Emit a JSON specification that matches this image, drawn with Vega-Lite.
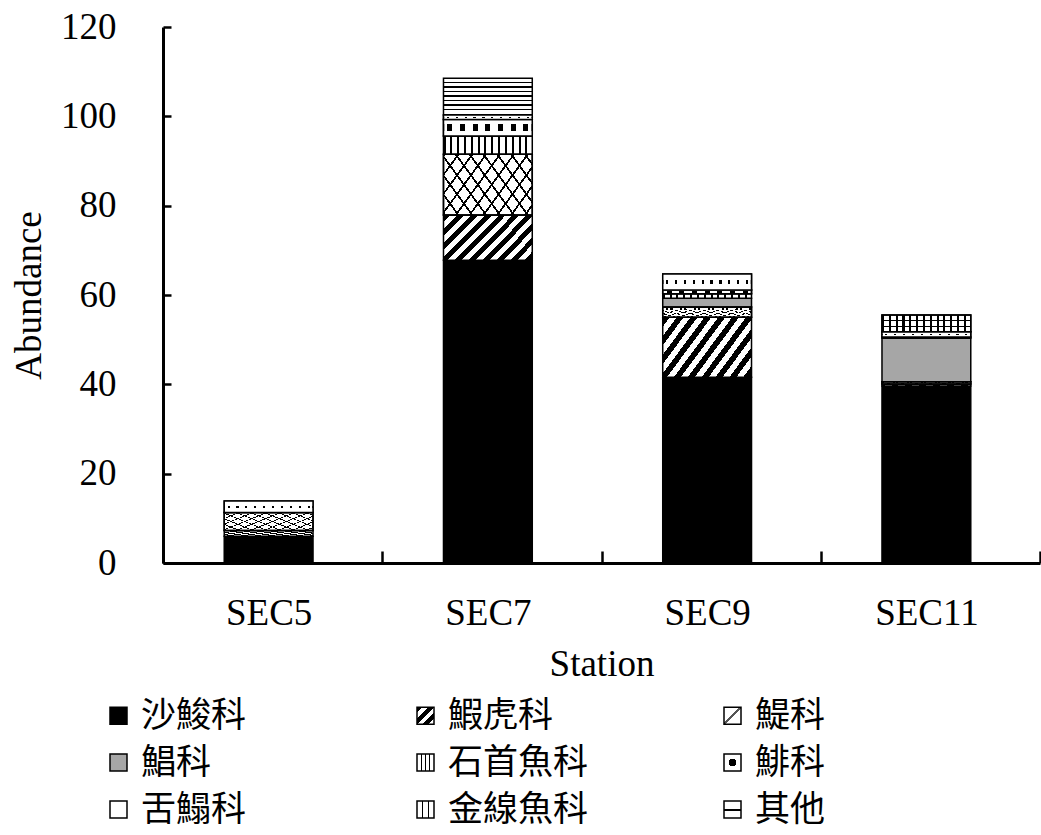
{
  "$schema": "https://vega.github.io/schema/vega-lite/v6.json",
  "width": 877,
  "height": 536,
  "autosize": {"type": "none"},
  "padding": {"left": 163, "top": 27, "right": 1, "bottom": 272},
  "background": "white",
  "config": {
    "view": {"stroke": null},
    "axis": {"grid": false, "domainColor": "black", "domainWidth": 3, "tickColor": "black", "tickWidth": 2.5, "labelFont": "Liberation Serif", "labelFontSize": 37, "labelColor": "black", "titleFont": "Liberation Serif", "titleFontSize": 37, "titleFontWeight": "normal", "titleColor": "black"}
  },
  "data": {"values": [
    {"station": "SEC5", "family": "沙鮻科", "value": 6.0},
    {"station": "SEC5", "family": "鰕虎科", "value": 1.3},
    {"station": "SEC5", "family": "鯷科", "value": 4.0},
    {"station": "SEC5", "family": "舌鰨科", "value": 2.6},
    {"station": "SEC7", "family": "沙鮻科", "value": 67.8},
    {"station": "SEC7", "family": "鰕虎科", "value": 10.1},
    {"station": "SEC7", "family": "鯷科", "value": 13.6},
    {"station": "SEC7", "family": "石首魚科", "value": 4.1},
    {"station": "SEC7", "family": "鯡科", "value": 3.7},
    {"station": "SEC7", "family": "舌鰨科", "value": 1.0},
    {"station": "SEC7", "family": "其他", "value": 8.2},
    {"station": "SEC9", "family": "沙鮻科", "value": 41.6},
    {"station": "SEC9", "family": "鰕虎科", "value": 13.4},
    {"station": "SEC9", "family": "鯷科", "value": 2.3},
    {"station": "SEC9", "family": "鯧科", "value": 2.0},
    {"station": "SEC9", "family": "石首魚科", "value": 1.0},
    {"station": "SEC9", "family": "鯡科", "value": 0.8},
    {"station": "SEC9", "family": "舌鰨科", "value": 3.6},
    {"station": "SEC11", "family": "沙鮻科", "value": 39.6},
    {"station": "SEC11", "family": "鰕虎科", "value": 0.5},
    {"station": "SEC11", "family": "鯷科", "value": 0.5},
    {"station": "SEC11", "family": "鯧科", "value": 9.7},
    {"station": "SEC11", "family": "石首魚科", "value": 0.3},
    {"station": "SEC11", "family": "舌鰨科", "value": 1.2},
    {"station": "SEC11", "family": "金線魚科", "value": 3.7}
  ]},
  "transform": [
    {"calculate": "indexof(['沙鮻科','鰕虎科','鯷科','鯧科','石首魚科','鯡科','舌鰨科','金線魚科','其他'], datum.family)", "as": "k"},
    {"stack": "value", "groupby": ["station"], "sort": [{"field": "k", "order": "ascending"}], "as": ["y0", "y1"]}
  ],
  "encoding": {
    "x": {"field": "station", "type": "nominal", "sort": ["SEC5", "SEC7", "SEC9", "SEC11"],
      "scale": {"type": "band", "paddingInner": 0, "paddingOuter": 0},
      "axis": {"title": "Station", "labelAngle": 0, "labelOffset": -4, "tickBand": "extent", "tickSize": -12, "labelPadding": 44, "titlePadding": 15}},
    "y": {"field": "y0", "type": "quantitative", "scale": {"domain": [0, 120]},
      "axis": {"title": "Abundance", "values": [0, 20, 40, 60, 80, 100, 120], "tickSize": -8, "labelPadding": 55, "titlePadding": 12}},
    "y2": {"field": "y1"}
  },
  "layer": [
    {
      "mark": {"type": "bar", "stroke": "black", "strokeWidth": 1.5, "width": {"band": 0.405}, "xOffset": -4},
      "encoding": {
        "fill": {
          "field": "family", "type": "nominal",
          "scale": {
            "domain": ["沙鮻科", "鰕虎科", "鯷科", "鯧科", "石首魚科", "鯡科", "舌鰨科", "金線魚科", "其他"],
            "range": [
              "black",
              {"expr": "{gradient: 'linear', x1: 0, y1: 0, x2: 1, y2: 1, stops: [{offset: 0, color: 'black'}, {offset: 0.167, color: 'black'}, {offset: 0.167, color: 'white'}, {offset: 0.333, color: 'white'}, {offset: 0.333, color: 'black'}, {offset: 0.5, color: 'black'}, {offset: 0.5, color: 'white'}, {offset: 0.667, color: 'white'}, {offset: 0.667, color: 'black'}, {offset: 0.833, color: 'black'}, {offset: 0.833, color: 'white'}, {offset: 1, color: 'white'}]}"},
              {"expr": "{gradient: 'linear', x1: 0, y1: 0, x2: 1, y2: 1, stops: [{offset: 0, color: 'white'}, {offset: 0.45, color: 'white'}, {offset: 0.45, color: '#555555'}, {offset: 0.55, color: '#555555'}, {offset: 0.55, color: 'white'}, {offset: 1, color: 'white'}]}"},
              "#a6a6a6",
              {"expr": "{gradient: 'linear', x1: 0, y1: 0, x2: 1, y2: 0, stops: [{offset: 0, color: 'white'}, {offset: 0.22, color: 'white'}, {offset: 0.22, color: 'black'}, {offset: 0.3, color: 'black'}, {offset: 0.3, color: 'white'}, {offset: 0.46, color: 'white'}, {offset: 0.46, color: 'black'}, {offset: 0.54, color: 'black'}, {offset: 0.54, color: 'white'}, {offset: 0.7, color: 'white'}, {offset: 0.7, color: 'black'}, {offset: 0.78, color: 'black'}, {offset: 0.78, color: 'white'}, {offset: 1, color: 'white'}]}"},
              {"expr": "{gradient: 'radial', x1: 0.5, y1: 0.5, r1: 0, x2: 0.5, y2: 0.5, r2: 0.5, stops: [{offset: 0, color: 'black'}, {offset: 0.45, color: 'black'}, {offset: 0.45, color: 'white'}, {offset: 1, color: 'white'}]}"},
              "white",
              {"expr": "{gradient: 'linear', x1: 0, y1: 0, x2: 1, y2: 0, stops: [{offset: 0, color: 'white'}, {offset: 0.3, color: 'white'}, {offset: 0.3, color: 'black'}, {offset: 0.38, color: 'black'}, {offset: 0.38, color: 'white'}, {offset: 0.62, color: 'white'}, {offset: 0.62, color: 'black'}, {offset: 0.7, color: 'black'}, {offset: 0.7, color: 'white'}, {offset: 1, color: 'white'}]}"},
              {"expr": "{gradient: 'linear', x1: 0, y1: 0, x2: 0, y2: 1, stops: [{offset: 0, color: 'white'}, {offset: 0.45, color: 'white'}, {offset: 0.45, color: 'black'}, {offset: 0.58, color: 'black'}, {offset: 0.58, color: 'white'}, {offset: 1, color: 'white'}]}"}
            ]
          },
          "legend": {
            "orient": "none", "legendX": -62, "legendY": 671, "title": null,
            "columns": 3, "direction": "horizontal", "gridAlign": "all",
            "columnPadding": 126, "rowPadding": 11, "padding": 0,
            "symbolType": "square", "symbolSize": 289, "symbolStrokeColor": "black", "symbolStrokeWidth": 1.5, "symbolOpacity": 1,
            "labelFont": "Noto Sans CJK TC", "labelFontSize": 35, "labelColor": "black", "labelOffset": 5, "labelLimit": 0,
            "encode": {"symbols": {"update": {"stroke": {"value": "black"}, "strokeWidth": {"value": 1.5}}}}
          },
          "condition": [
            {"test": "datum.family === '沙鮻科'", "value": "black"},
            {"test": "datum.family === '鰕虎科'", "value": {"gradient": "linear", "x1": 0, "y1": 0, "x2": 1.5, "y2": 0.75, "stops": [
              {"offset": 0, "color": "black"}, {"offset": 0.0417, "color": "black"}, {"offset": 0.0417, "color": "white"}, {"offset": 0.0833, "color": "white"},
              {"offset": 0.0833, "color": "black"}, {"offset": 0.125, "color": "black"}, {"offset": 0.125, "color": "white"}, {"offset": 0.1667, "color": "white"},
              {"offset": 0.1667, "color": "black"}, {"offset": 0.2083, "color": "black"}, {"offset": 0.2083, "color": "white"}, {"offset": 0.25, "color": "white"},
              {"offset": 0.25, "color": "black"}, {"offset": 0.2917, "color": "black"}, {"offset": 0.2917, "color": "white"}, {"offset": 0.3333, "color": "white"},
              {"offset": 0.3333, "color": "black"}, {"offset": 0.375, "color": "black"}, {"offset": 0.375, "color": "white"}, {"offset": 0.4167, "color": "white"},
              {"offset": 0.4167, "color": "black"}, {"offset": 0.4583, "color": "black"}, {"offset": 0.4583, "color": "white"}, {"offset": 0.5, "color": "white"},
              {"offset": 0.5, "color": "black"}, {"offset": 0.5417, "color": "black"}, {"offset": 0.5417, "color": "white"}, {"offset": 0.5833, "color": "white"},
              {"offset": 0.5833, "color": "black"}, {"offset": 0.625, "color": "black"}, {"offset": 0.625, "color": "white"}, {"offset": 0.6667, "color": "white"},
              {"offset": 0.6667, "color": "black"}, {"offset": 0.7083, "color": "black"}, {"offset": 0.7083, "color": "white"}, {"offset": 0.75, "color": "white"},
              {"offset": 0.75, "color": "black"}, {"offset": 0.7917, "color": "black"}, {"offset": 0.7917, "color": "white"}, {"offset": 0.8333, "color": "white"},
              {"offset": 0.8333, "color": "black"}, {"offset": 1, "color": "black"}]}},
            {"test": "datum.family === '鯷科'", "value": {"gradient": "linear", "x1": 0, "y1": 0, "x2": 1.5, "y2": 0.75, "stops": [
              {"offset": 0, "color": "black"}, {"offset": 0.013, "color": "black"}, {"offset": 0.013, "color": "white"}, {"offset": 0.0833, "color": "white"},
              {"offset": 0.0833, "color": "black"}, {"offset": 0.0963, "color": "black"}, {"offset": 0.0963, "color": "white"}, {"offset": 0.1667, "color": "white"},
              {"offset": 0.1667, "color": "black"}, {"offset": 0.1797, "color": "black"}, {"offset": 0.1797, "color": "white"}, {"offset": 0.25, "color": "white"},
              {"offset": 0.25, "color": "black"}, {"offset": 0.263, "color": "black"}, {"offset": 0.263, "color": "white"}, {"offset": 0.3333, "color": "white"},
              {"offset": 0.3333, "color": "black"}, {"offset": 0.3463, "color": "black"}, {"offset": 0.3463, "color": "white"}, {"offset": 0.4167, "color": "white"},
              {"offset": 0.4167, "color": "black"}, {"offset": 0.4297, "color": "black"}, {"offset": 0.4297, "color": "white"}, {"offset": 0.5, "color": "white"},
              {"offset": 0.5, "color": "black"}, {"offset": 0.513, "color": "black"}, {"offset": 0.513, "color": "white"}, {"offset": 0.5833, "color": "white"},
              {"offset": 0.5833, "color": "black"}, {"offset": 0.5963, "color": "black"}, {"offset": 0.5963, "color": "white"}, {"offset": 0.6667, "color": "white"},
              {"offset": 0.6667, "color": "black"}, {"offset": 0.6797, "color": "black"}, {"offset": 0.6797, "color": "white"}, {"offset": 0.75, "color": "white"},
              {"offset": 0.75, "color": "black"}, {"offset": 0.763, "color": "black"}, {"offset": 0.763, "color": "white"}, {"offset": 1, "color": "white"}]}},
            {"test": "datum.family === '鯧科'", "value": "#a6a6a6"},
            {"test": "datum.family === '石首魚科'", "value": {"gradient": "linear", "x1": 0, "y1": 0, "x2": 1, "y2": 0, "stops": [
              {"offset": 0, "color": "black"}, {"offset": 0.023, "color": "black"}, {"offset": 0.023, "color": "white"}, {"offset": 0.0769, "color": "white"},
              {"offset": 0.0769, "color": "black"}, {"offset": 0.0999, "color": "black"}, {"offset": 0.0999, "color": "white"}, {"offset": 0.1538, "color": "white"},
              {"offset": 0.1538, "color": "black"}, {"offset": 0.1768, "color": "black"}, {"offset": 0.1768, "color": "white"}, {"offset": 0.2308, "color": "white"},
              {"offset": 0.2308, "color": "black"}, {"offset": 0.2538, "color": "black"}, {"offset": 0.2538, "color": "white"}, {"offset": 0.3077, "color": "white"},
              {"offset": 0.3077, "color": "black"}, {"offset": 0.3307, "color": "black"}, {"offset": 0.3307, "color": "white"}, {"offset": 0.3846, "color": "white"},
              {"offset": 0.3846, "color": "black"}, {"offset": 0.4076, "color": "black"}, {"offset": 0.4076, "color": "white"}, {"offset": 0.4615, "color": "white"},
              {"offset": 0.4615, "color": "black"}, {"offset": 0.4845, "color": "black"}, {"offset": 0.4845, "color": "white"}, {"offset": 0.5385, "color": "white"},
              {"offset": 0.5385, "color": "black"}, {"offset": 0.5615, "color": "black"}, {"offset": 0.5615, "color": "white"}, {"offset": 0.6154, "color": "white"},
              {"offset": 0.6154, "color": "black"}, {"offset": 0.6384, "color": "black"}, {"offset": 0.6384, "color": "white"}, {"offset": 0.6923, "color": "white"},
              {"offset": 0.6923, "color": "black"}, {"offset": 0.7153, "color": "black"}, {"offset": 0.7153, "color": "white"}, {"offset": 0.7692, "color": "white"},
              {"offset": 0.7692, "color": "black"}, {"offset": 0.7922, "color": "black"}, {"offset": 0.7922, "color": "white"}, {"offset": 0.8462, "color": "white"},
              {"offset": 0.8462, "color": "black"}, {"offset": 0.8692, "color": "black"}, {"offset": 0.8692, "color": "white"}, {"offset": 0.9231, "color": "white"},
              {"offset": 0.9231, "color": "black"}, {"offset": 0.9461, "color": "black"}, {"offset": 0.9461, "color": "white"}, {"offset": 1, "color": "white"}]}},
            {"test": "datum.family === '鯡科'", "value": {"gradient": "linear", "x1": 0, "y1": 0, "x2": 1, "y2": 0, "stops": [
              {"offset": 0, "color": "white"},
              {"offset": 0.043, "color": "white"}, {"offset": 0.043, "color": "black"}, {"offset": 0.1, "color": "black"}, {"offset": 0.1, "color": "white"},
              {"offset": 0.1859, "color": "white"}, {"offset": 0.1859, "color": "black"}, {"offset": 0.2429, "color": "black"}, {"offset": 0.2429, "color": "white"},
              {"offset": 0.3287, "color": "white"}, {"offset": 0.3287, "color": "black"}, {"offset": 0.3857, "color": "black"}, {"offset": 0.3857, "color": "white"},
              {"offset": 0.4716, "color": "white"}, {"offset": 0.4716, "color": "black"}, {"offset": 0.5286, "color": "black"}, {"offset": 0.5286, "color": "white"},
              {"offset": 0.6144, "color": "white"}, {"offset": 0.6144, "color": "black"}, {"offset": 0.6714, "color": "black"}, {"offset": 0.6714, "color": "white"},
              {"offset": 0.7573, "color": "white"}, {"offset": 0.7573, "color": "black"}, {"offset": 0.8143, "color": "black"}, {"offset": 0.8143, "color": "white"},
              {"offset": 0.9001, "color": "white"}, {"offset": 0.9001, "color": "black"}, {"offset": 0.9571, "color": "black"}, {"offset": 0.9571, "color": "white"},
              {"offset": 1, "color": "white"}]}},
            {"test": "datum.family === '舌鰨科'", "value": {"gradient": "linear", "x1": 0, "y1": 0, "x2": 1, "y2": 0, "stops": [
              {"offset": 0, "color": "white"},
              {"offset": 0.038, "color": "white"}, {"offset": 0.038, "color": "black"}, {"offset": 0.062, "color": "black"}, {"offset": 0.062, "color": "white"},
              {"offset": 0.138, "color": "white"}, {"offset": 0.138, "color": "black"}, {"offset": 0.162, "color": "black"}, {"offset": 0.162, "color": "white"},
              {"offset": 0.238, "color": "white"}, {"offset": 0.238, "color": "black"}, {"offset": 0.262, "color": "black"}, {"offset": 0.262, "color": "white"},
              {"offset": 0.338, "color": "white"}, {"offset": 0.338, "color": "black"}, {"offset": 0.362, "color": "black"}, {"offset": 0.362, "color": "white"},
              {"offset": 0.438, "color": "white"}, {"offset": 0.438, "color": "black"}, {"offset": 0.462, "color": "black"}, {"offset": 0.462, "color": "white"},
              {"offset": 0.538, "color": "white"}, {"offset": 0.538, "color": "black"}, {"offset": 0.562, "color": "black"}, {"offset": 0.562, "color": "white"},
              {"offset": 0.638, "color": "white"}, {"offset": 0.638, "color": "black"}, {"offset": 0.662, "color": "black"}, {"offset": 0.662, "color": "white"},
              {"offset": 0.738, "color": "white"}, {"offset": 0.738, "color": "black"}, {"offset": 0.762, "color": "black"}, {"offset": 0.762, "color": "white"},
              {"offset": 0.838, "color": "white"}, {"offset": 0.838, "color": "black"}, {"offset": 0.862, "color": "black"}, {"offset": 0.862, "color": "white"},
              {"offset": 0.938, "color": "white"}, {"offset": 0.938, "color": "black"}, {"offset": 0.962, "color": "black"}, {"offset": 0.962, "color": "white"},
              {"offset": 1, "color": "white"}]}},
            {"test": "datum.family === '金線魚科'", "value": {"gradient": "linear", "x1": 0, "y1": 0, "x2": 1, "y2": 0, "stops": [
              {"offset": 0, "color": "black"}, {"offset": 0.023, "color": "black"}, {"offset": 0.023, "color": "white"}, {"offset": 0.0769, "color": "white"},
              {"offset": 0.0769, "color": "black"}, {"offset": 0.0999, "color": "black"}, {"offset": 0.0999, "color": "white"}, {"offset": 0.1538, "color": "white"},
              {"offset": 0.1538, "color": "black"}, {"offset": 0.1768, "color": "black"}, {"offset": 0.1768, "color": "white"}, {"offset": 0.2308, "color": "white"},
              {"offset": 0.2308, "color": "black"}, {"offset": 0.2538, "color": "black"}, {"offset": 0.2538, "color": "white"}, {"offset": 0.3077, "color": "white"},
              {"offset": 0.3077, "color": "black"}, {"offset": 0.3307, "color": "black"}, {"offset": 0.3307, "color": "white"}, {"offset": 0.3846, "color": "white"},
              {"offset": 0.3846, "color": "black"}, {"offset": 0.4076, "color": "black"}, {"offset": 0.4076, "color": "white"}, {"offset": 0.4615, "color": "white"},
              {"offset": 0.4615, "color": "black"}, {"offset": 0.4845, "color": "black"}, {"offset": 0.4845, "color": "white"}, {"offset": 0.5385, "color": "white"},
              {"offset": 0.5385, "color": "black"}, {"offset": 0.5615, "color": "black"}, {"offset": 0.5615, "color": "white"}, {"offset": 0.6154, "color": "white"},
              {"offset": 0.6154, "color": "black"}, {"offset": 0.6384, "color": "black"}, {"offset": 0.6384, "color": "white"}, {"offset": 0.6923, "color": "white"},
              {"offset": 0.6923, "color": "black"}, {"offset": 0.7153, "color": "black"}, {"offset": 0.7153, "color": "white"}, {"offset": 0.7692, "color": "white"},
              {"offset": 0.7692, "color": "black"}, {"offset": 0.7922, "color": "black"}, {"offset": 0.7922, "color": "white"}, {"offset": 0.8462, "color": "white"},
              {"offset": 0.8462, "color": "black"}, {"offset": 0.8692, "color": "black"}, {"offset": 0.8692, "color": "white"}, {"offset": 0.9231, "color": "white"},
              {"offset": 0.9231, "color": "black"}, {"offset": 0.9461, "color": "black"}, {"offset": 0.9461, "color": "white"}, {"offset": 1, "color": "white"}]}},
            {"test": "datum.family === '其他'", "value": {"gradient": "linear", "x1": 0, "y1": 0, "x2": 0, "y2": 1, "stops": [
              {"offset": 0, "color": "white"}, {"offset": 0.0875, "color": "white"}, {"offset": 0.0875, "color": "black"}, {"offset": 0.125, "color": "black"},
              {"offset": 0.125, "color": "white"}, {"offset": 0.2125, "color": "white"}, {"offset": 0.2125, "color": "black"}, {"offset": 0.25, "color": "black"},
              {"offset": 0.25, "color": "white"}, {"offset": 0.3375, "color": "white"}, {"offset": 0.3375, "color": "black"}, {"offset": 0.375, "color": "black"},
              {"offset": 0.375, "color": "white"}, {"offset": 0.4625, "color": "white"}, {"offset": 0.4625, "color": "black"}, {"offset": 0.5, "color": "black"},
              {"offset": 0.5, "color": "white"}, {"offset": 0.5875, "color": "white"}, {"offset": 0.5875, "color": "black"}, {"offset": 0.625, "color": "black"},
              {"offset": 0.625, "color": "white"}, {"offset": 0.7125, "color": "white"}, {"offset": 0.7125, "color": "black"}, {"offset": 0.75, "color": "black"},
              {"offset": 0.75, "color": "white"}, {"offset": 0.8375, "color": "white"}, {"offset": 0.8375, "color": "black"}, {"offset": 0.875, "color": "black"},
              {"offset": 0.875, "color": "white"}, {"offset": 0.9625, "color": "white"}, {"offset": 0.9625, "color": "black"}, {"offset": 1, "color": "black"}]}}
          ]
        }
      }
    },
    {
      "transform": [{"filter": "datum.family === '鯷科'"}],
      "mark": {"type": "bar", "stroke": "black", "strokeWidth": 1.5, "width": {"band": 0.405}, "xOffset": -4, "fill": {"gradient": "linear", "x1": 0, "y1": 1, "x2": 1.5, "y2": 0.25, "stops": [
        {"offset": 0, "color": "black"}, {"offset": 0.013, "color": "black"}, {"offset": 0.013, "color": "rgba(0,0,0,0)"}, {"offset": 0.0833, "color": "rgba(0,0,0,0)"},
        {"offset": 0.0833, "color": "black"}, {"offset": 0.0963, "color": "black"}, {"offset": 0.0963, "color": "rgba(0,0,0,0)"}, {"offset": 0.1667, "color": "rgba(0,0,0,0)"},
        {"offset": 0.1667, "color": "black"}, {"offset": 0.1797, "color": "black"}, {"offset": 0.1797, "color": "rgba(0,0,0,0)"}, {"offset": 0.25, "color": "rgba(0,0,0,0)"},
        {"offset": 0.25, "color": "black"}, {"offset": 0.263, "color": "black"}, {"offset": 0.263, "color": "rgba(0,0,0,0)"}, {"offset": 0.3333, "color": "rgba(0,0,0,0)"},
        {"offset": 0.3333, "color": "black"}, {"offset": 0.3463, "color": "black"}, {"offset": 0.3463, "color": "rgba(0,0,0,0)"}, {"offset": 0.4167, "color": "rgba(0,0,0,0)"},
        {"offset": 0.4167, "color": "black"}, {"offset": 0.4297, "color": "black"}, {"offset": 0.4297, "color": "rgba(0,0,0,0)"}, {"offset": 0.5, "color": "rgba(0,0,0,0)"},
        {"offset": 0.5, "color": "black"}, {"offset": 0.513, "color": "black"}, {"offset": 0.513, "color": "rgba(0,0,0,0)"}, {"offset": 0.5833, "color": "rgba(0,0,0,0)"},
        {"offset": 0.5833, "color": "black"}, {"offset": 0.5963, "color": "black"}, {"offset": 0.5963, "color": "rgba(0,0,0,0)"}, {"offset": 0.6667, "color": "rgba(0,0,0,0)"},
        {"offset": 0.6667, "color": "black"}, {"offset": 0.6797, "color": "black"}, {"offset": 0.6797, "color": "rgba(0,0,0,0)"}, {"offset": 0.75, "color": "rgba(0,0,0,0)"},
        {"offset": 0.75, "color": "black"}, {"offset": 0.763, "color": "black"}, {"offset": 0.763, "color": "rgba(0,0,0,0)"}, {"offset": 1, "color": "rgba(0,0,0,0)"}]}}
    },
    {
      "transform": [{"filter": "datum.family === '鯡科'"}],
      "mark": {"type": "bar", "stroke": "black", "strokeWidth": 1.5, "width": {"band": 0.405}, "xOffset": -4, "fill": {"gradient": "linear", "x1": 0, "y1": 0, "x2": 0, "y2": 1, "stops": [
        {"offset": 0, "color": "white"}, {"offset": 0.3, "color": "white"}, {"offset": 0.3, "color": "rgba(255,255,255,0)"}, {"offset": 0.7, "color": "rgba(255,255,255,0)"}, {"offset": 0.7, "color": "white"}, {"offset": 1, "color": "white"}]}}
    },
    {
      "transform": [{"filter": "datum.family === '舌鰨科'"}],
      "mark": {"type": "bar", "stroke": "black", "strokeWidth": 1.5, "width": {"band": 0.405}, "xOffset": -4, "fill": {"gradient": "linear", "x1": 0, "y1": 0, "x2": 0, "y2": 1, "stops": [
        {"offset": 0, "color": "white"}, {"offset": 0.4, "color": "white"}, {"offset": 0.4, "color": "rgba(255,255,255,0)"}, {"offset": 0.6, "color": "rgba(255,255,255,0)"}, {"offset": 0.6, "color": "white"}, {"offset": 1, "color": "white"}]}}
    },
    {
      "transform": [{"filter": "datum.family === '金線魚科'"}],
      "mark": {"type": "bar", "stroke": "black", "strokeWidth": 1.5, "width": {"band": 0.405}, "xOffset": -4, "fill": {"gradient": "linear", "x1": 0, "y1": 0, "x2": 0, "y2": 1, "stops": [
        {"offset": 0, "color": "rgba(0,0,0,0)"}, {"offset": 0.3, "color": "rgba(0,0,0,0)"}, {"offset": 0.3, "color": "black"}, {"offset": 0.37, "color": "black"}, {"offset": 0.37, "color": "rgba(0,0,0,0)"},
        {"offset": 0.63, "color": "rgba(0,0,0,0)"}, {"offset": 0.63, "color": "black"}, {"offset": 0.7, "color": "black"}, {"offset": 0.7, "color": "rgba(0,0,0,0)"}, {"offset": 1, "color": "rgba(0,0,0,0)"}]}}
    }
  ]
}
